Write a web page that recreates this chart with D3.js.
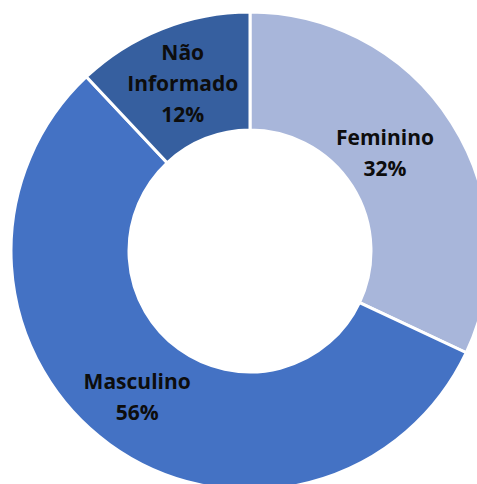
<!DOCTYPE html>
<html>
<head>
<meta charset="utf-8">
<script src="https://cdn.jsdelivr.net/npm/d3@7/dist/d3.min.js"></script>
<style>
  html, body { margin: 0; padding: 0; background: #fff; overflow: hidden; }
  .label { font-family: 'Open Sans', sans-serif; font-weight: 700; font-size: 21px; fill: #0d0d0d; }
</style>
</head>
<body>
<div id="chart"></div>
<script>
// data
const categories = ['Feminino', 'Masculino', 'Não Informado'];
const percents = [32, 56, 12];
const labelLines = [['Feminino'], ['Masculino'], ['Não', 'Informado']];

const w = 477, h = 484;
const cx = 250, cy = 251;
const outerR = 239, innerR = 121;

const color = d3.scaleOrdinal()
  .domain(categories)
  .range(['#A8B6DA', '#4472C4', '#365F9F']);

const svg = d3.select('#chart').append('svg')
  .attr('width', w)
  .attr('height', h);

const g = svg.append('g')
  .attr('transform', `translate(${ cx }, ${ cy })`);

const pie = d3.pie().sort(null).value(function(d) { return d.value; });
const arc = d3.arc().innerRadius(innerR).outerRadius(outerR);

const data = categories.map(function(c, i) {
  return { name: c, value: percents[i], lines: labelLines[i] };
});

const arcs = pie(data);

// slices
g.selectAll('path')
  .data(arcs)
  .enter()
  .append('path')
    .attr('d', arc)
    .attr('fill', function(d) { return color(d.data.name); })
    .attr('stroke', '#fff')
    .attr('stroke-width', 3);

// labels (Feminino is nudged in a bit, like the original)
const nudge = { 'Feminino': [-17, -2], 'Masculino': [-7, 0], 'Não Informado': [-1, 0] };
const lineH = 31;

const labels = g.selectAll('text.label')
  .data(arcs)
  .enter()
  .append('text')
    .attr('class', 'label')
    .attr('text-anchor', 'middle')
    .attr('transform', function(d) {
      const c = arc.centroid(d);
      const n = nudge[d.data.name];
      return `translate(${ c[0] + n[0] }, ${ c[1] + n[1] })`;
    });

labels.each(function(d) {
  const lines = d.data.lines.concat([d.data.value + '%']);
  const t = d3.select(this);
  const top = -(lines.length - 1) * lineH / 2;
  lines.forEach(function(l, i) {
    t.append('tspan')
      .attr('x', 0)
      .attr('y', top + i * lineH)
      .attr('dy', '0.36em')
      .text(l);
  });
});
</script>
</body>
</html>
